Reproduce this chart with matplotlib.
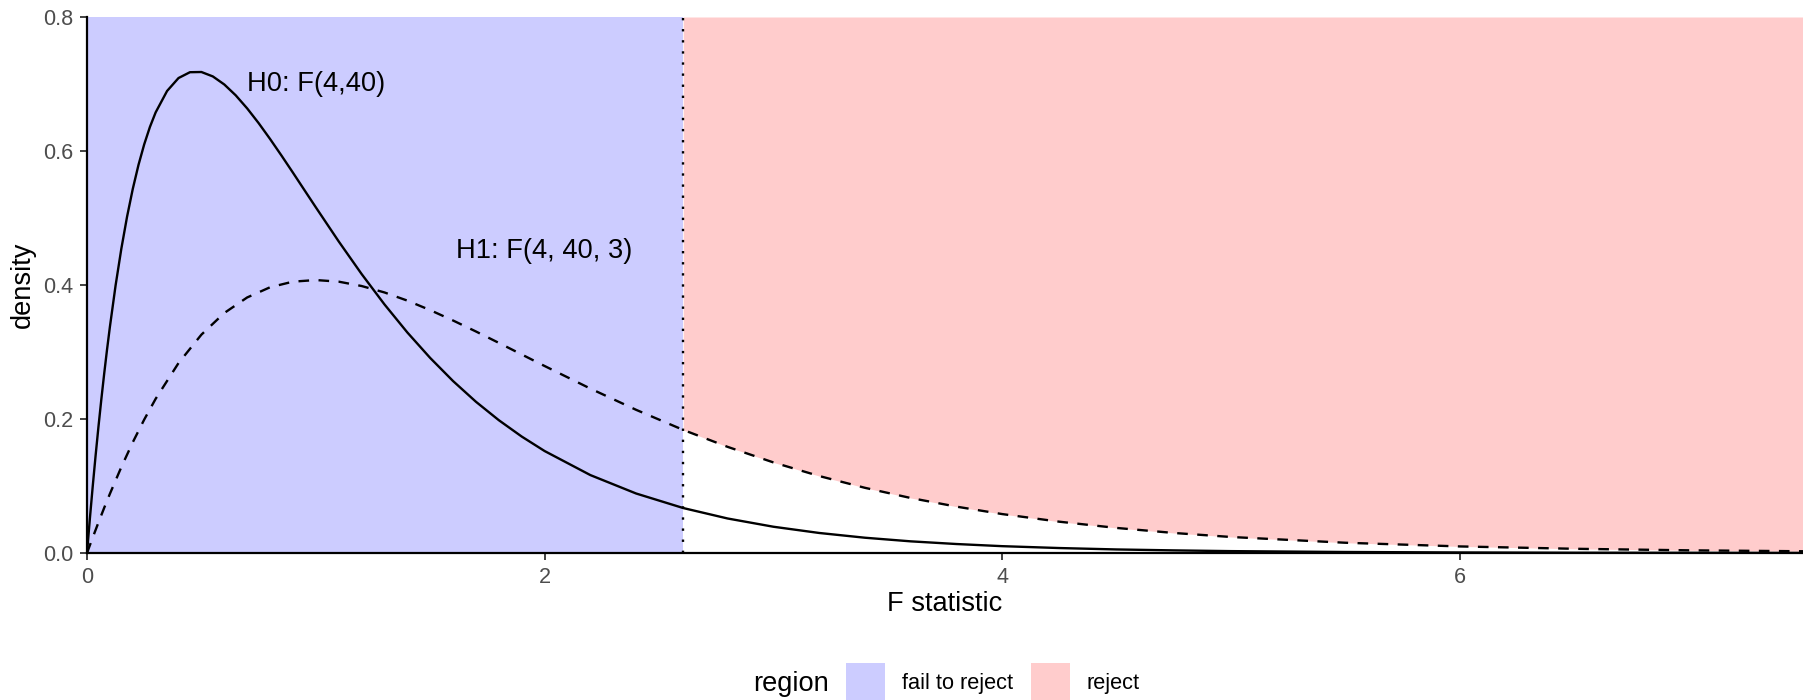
import matplotlib
matplotlib.use("Agg")
import matplotlib.pyplot as plt
from matplotlib.patches import Rectangle

plt.rcParams['font.family'] = ['Liberation Sans', 'DejaVu Sans']

# densities
h0_x = [0, 0.0125, 0.025, 0.0375, 0.05, 0.0625, 0.075, 0.0875, 0.1, 0.125, 0.15, 0.175,
        0.2, 0.225, 0.25, 0.275, 0.3, 0.35, 0.4, 0.45, 0.5, 0.55, 0.6, 0.65, 0.7, 0.75,
        0.8, 0.85, 0.9, 0.95, 1.0, 1.1, 1.2, 1.3, 1.4, 1.5, 1.6, 1.7, 1.8, 1.9, 2.0, 2.2,
        2.4, 2.606, 2.8, 3.0, 3.2, 3.4, 3.6, 3.8, 4.0, 4.25, 4.5, 4.75, 5.0, 5.5, 6.0,
        6.5, 7.0, 7.5]
h0_density = [0.0, 0.0511, 0.0994, 0.1451, 0.1882, 0.2289, 0.2673, 0.3034, 0.3374, 0.3995,
              0.4540, 0.5018, 0.5433, 0.5792, 0.6099, 0.6359, 0.6576, 0.6896, 0.7089, 0.7176,
              0.7179, 0.7113, 0.6993, 0.6831, 0.6636, 0.6417, 0.6180, 0.5932, 0.5677, 0.5418,
              0.5160, 0.4651, 0.4165, 0.3711, 0.3292, 0.2911, 0.2566, 0.2257, 0.1982, 0.1738,
              0.1522, 0.1163, 0.0888, 0.0671, 0.0515, 0.0392, 0.0299, 0.0228, 0.0174, 0.0134,
              0.0102, 0.0074, 0.0053, 0.0039, 0.0028, 0.0015, 0.0008, 0.0004, 0.0003, 0.0001]

h1_x = [0, 0.025, 0.05, 0.075, 0.1, 0.15, 0.2, 0.25, 0.3, 0.4, 0.5, 0.6, 0.7, 0.8, 0.9, 1.0,
        1.1, 1.2, 1.3, 1.4, 1.5, 1.6, 1.7, 1.8, 1.9, 2.0, 2.2, 2.4, 2.606, 2.8, 3.0, 3.2,
        3.4, 3.6, 3.8, 4.0, 4.25, 4.5, 4.75, 5.0, 5.5, 6.0, 6.5, 7.0, 7.5]
h1_density = [0.0, 0.0231, 0.0455, 0.0673, 0.0883, 0.1282, 0.1652, 0.1991, 0.2301, 0.2835,
              0.3259, 0.3582, 0.3814, 0.3966, 0.4050, 0.4074, 0.4050, 0.3985, 0.3889, 0.3767,
              0.3625, 0.3470, 0.3306, 0.3136, 0.2963, 0.2791, 0.2454, 0.2137, 0.1837, 0.1584,
              0.1352, 0.1149, 0.0973, 0.0821, 0.0692, 0.0581, 0.0467, 0.0374, 0.0299, 0.0239,
              0.0153, 0.0098, 0.0063, 0.0040, 0.0026]
f_crit = 2.606
x_max = 7.5
y_max = 0.8

region_labels = ["fail to reject", "reject"]
region_colors = ["#CCCCFF", "#FFCCCC"]

W, H = 1803, 700
fig = plt.figure(figsize=(W / 100, H / 100), dpi=100)
ax = fig.add_axes([87 / W, 1 - 553 / H, 1 - 87 / W, (553 - 17) / H])

# blue left of the cutoff, red above the H1 curve to the right of it
ax.axvspan(0, f_crit, color=region_colors[0], lw=0, zorder=1)
rx = [x for x in h1_x if x >= f_crit]
ry = [y for x, y in zip(h1_x, h1_density) if x >= f_crit]
ax.fill_between(rx, ry, y_max, color=region_colors[1], lw=0, zorder=1)

lw = 1.7
ax.plot(h0_x, h0_density, color="black", lw=lw, zorder=3)
ax.plot(h1_x, h1_density, color="black", lw=lw, ls=(0, (4.5, 4)), zorder=3)
ax.axvline(f_crit, color="black", lw=lw, ls=(0, (1, 3.7)), zorder=3)

ax.text(1.0, 0.70, "H0: F(4,40)", fontsize=19.6, ha="center", va="center", zorder=4)
ax.text(2.0, 0.45, "H1: F(4, 40, 3)", fontsize=19.6, ha="center", va="center", zorder=4)

ax.set_xlim(0, x_max)
ax.set_ylim(0, y_max)
ax.set_xticks([0, 2, 4, 6])
ax.set_xticklabels(["0", "2", "4", "6"])
ax.set_yticks([0, 0.2, 0.4, 0.6, 0.8])
ax.set_yticklabels(["0.0", "0.2", "0.4", "0.6", "0.8"])
ax.tick_params(length=5, width=1.3, color="#333333", labelcolor="#4D4D4D",
               labelsize=15.6, pad=5)
for s in ["top", "right"]:
    ax.spines[s].set_visible(False)
for s in ["left", "bottom"]:
    ax.spines[s].set_linewidth(1.6)
    ax.spines[s].set_zorder(5)

fig.text((87 + W) / 2 / W, 1 - 604 / H, "F statistic", fontsize=19.6,
         ha="center", va="center")
fig.text(23 / W, 1 - 285 / H, "density", fontsize=19.6, rotation=90,
         ha="center", va="center")

# legend, ggplot style with the title on the left
fig.text(753 / W, 1 - 684 / H, "region", fontsize=19.6, ha="left", va="center")
key_x = [846, 1031]
text_x = [902, 1087]
for kx, tx, lab, col in zip(key_x, text_x, region_labels, region_colors):
    fig.patches.append(Rectangle((kx / W, 1 - 702 / H), 39 / W, 39 / H,
                                 transform=fig.transFigure, color=col, lw=0))
    fig.text(tx / W, 1 - 684 / H, lab, fontsize=15.7, ha="left", va="center")

fig.savefig("out.png")
